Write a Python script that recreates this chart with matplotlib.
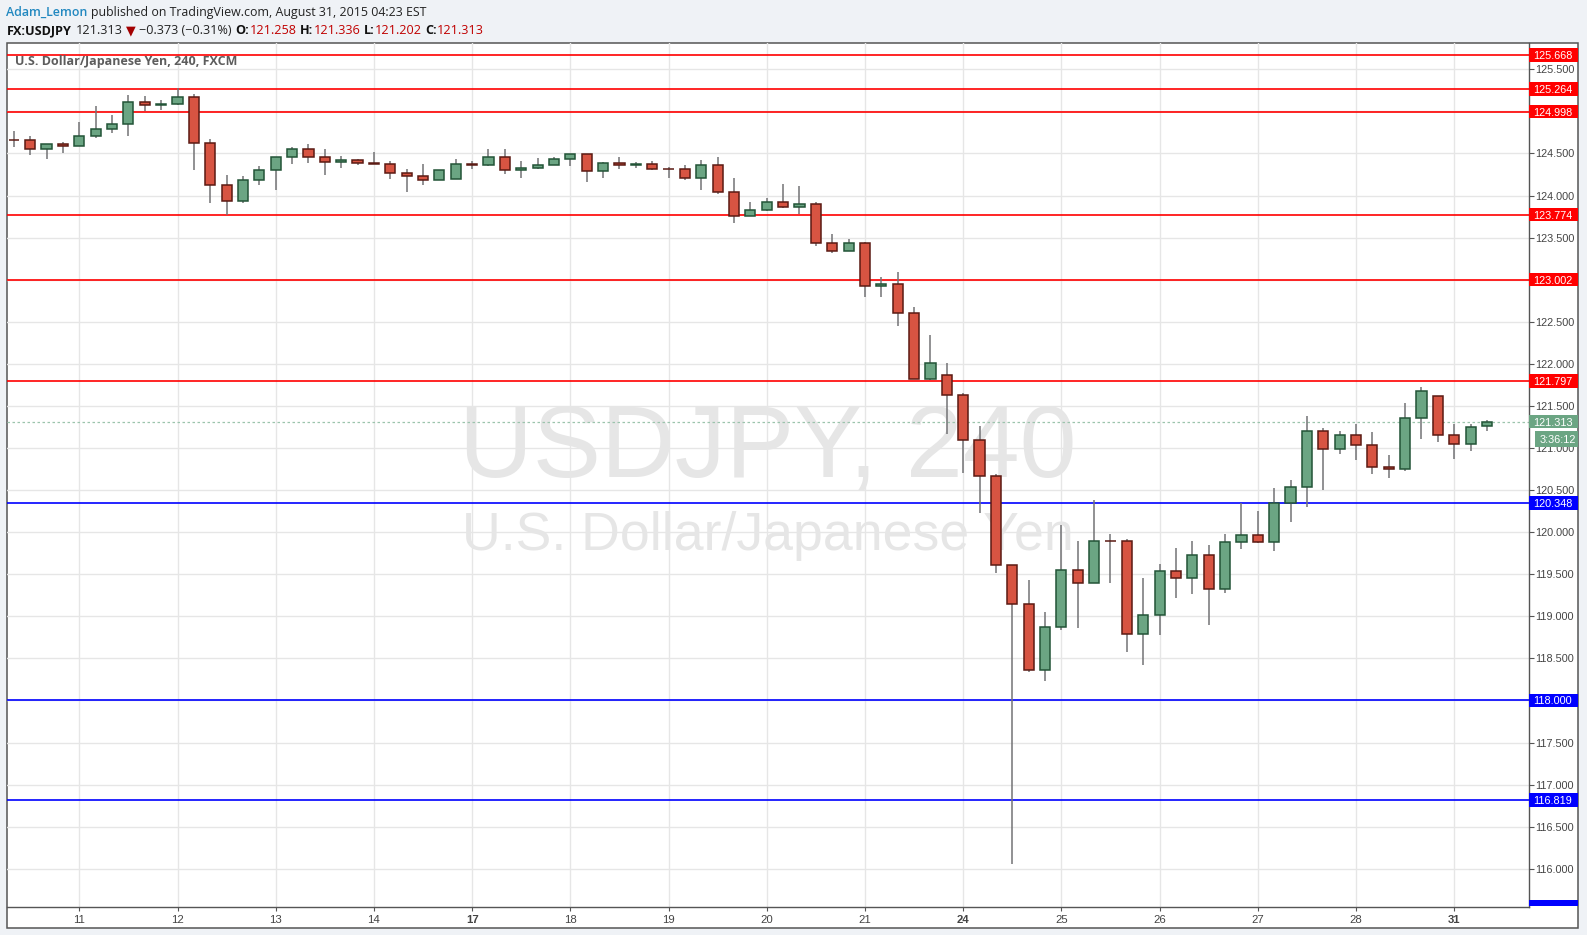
import matplotlib
matplotlib.use('Agg')
import matplotlib.pyplot as plt
from matplotlib.patches import Rectangle
from matplotlib.transforms import blended_transform_factory
import numpy as np

# ---------------- data ----------------
opens = [124.660, 124.655, 124.548, 124.607, 124.583, 124.702, 124.786, 124.845, 125.107, 125.071,
         125.083, 125.167, 124.619, 124.131, 123.940, 124.190, 124.298, 124.452, 124.548, 124.452,
         124.393, 124.417, 124.381, 124.369, 124.262, 124.238, 124.179, 124.202, 124.373, 124.357,
         124.452, 124.298, 124.333, 124.357, 124.440, 124.488, 124.286, 124.381, 124.357, 124.369,
         124.321, 124.321, 124.214, 124.357, 124.048, 123.762, 123.833, 123.929, 123.869, 123.905,
         123.431, 123.336, 123.431, 122.921, 122.945, 122.601, 121.818, 121.866, 121.627, 121.091,
         120.663, 119.615, 119.151, 118.365, 118.877, 119.556, 119.397, 119.901, 119.901, 118.794,
         119.020, 119.544, 119.460, 119.734, 119.329, 119.889, 119.972, 119.889, 120.341, 120.532,
         121.198, 120.984, 121.151, 121.032, 120.770, 120.746, 121.353, 121.615, 121.151, 121.044,
         121.258]
highs = [124.766, 124.706, 124.607, 124.635, 124.873, 125.063, 124.956, 125.194, 125.183, 125.135,
         125.274, 125.202, 124.667, 124.250, 124.238, 124.349, 124.452, 124.575, 124.607, 124.548,
         124.464, 124.429, 124.516, 124.409, 124.310, 124.373, 124.298, 124.433, 124.409, 124.552,
         124.552, 124.409, 124.444, 124.456, 124.488, 124.488, 124.397, 124.452, 124.393, 124.409,
         124.345, 124.357, 124.421, 124.452, 124.214, 123.921, 123.968, 124.134, 124.111, 123.921,
         123.542, 123.482, 123.447, 123.032, 123.091, 122.676, 122.344, 122.012, 121.651, 121.262,
         120.687, 119.615, 119.437, 119.048, 120.083, 119.893, 120.381, 119.984, 119.921, 119.452,
         119.627, 119.810, 119.893, 119.845, 119.984, 120.345, 120.250, 120.520, 120.615, 121.381,
         121.234, 121.198, 121.286, 121.187, 120.913, 121.536, 121.726, 121.615, 121.290, 121.282,
         121.336]
lows = [124.580, 124.484, 124.437, 124.508, 124.583, 124.687, 124.746, 124.710, 125.004, 125.020,
        125.075, 124.298, 123.913, 123.774, 123.913, 124.131, 124.060, 124.369, 124.389, 124.250,
        124.329, 124.357, 124.373, 124.198, 124.044, 124.127, 124.179, 124.202, 124.321, 124.349,
        124.258, 124.210, 124.321, 124.357, 124.353, 124.163, 124.214, 124.321, 124.333, 124.306,
        124.210, 124.187, 124.067, 124.024, 123.679, 123.762, 123.821, 123.854, 123.778, 123.403,
        123.320, 123.336, 122.798, 122.798, 122.455, 121.818, 121.806, 121.171, 120.706, 120.230,
        119.516, 116.052, 118.337, 118.230, 118.841, 118.861, 119.397, 119.397, 118.575, 118.421,
        118.778, 119.218, 119.266, 118.897, 119.278, 119.802, 119.877, 119.778, 120.123, 120.302,
        120.496, 120.925, 120.853, 120.687, 120.639, 120.722, 121.103, 121.067, 120.865, 120.960,
        121.202]
closes = [124.655, 124.548, 124.607, 124.583, 124.702, 124.786, 124.845, 125.107, 125.071, 125.087,
          125.167, 124.619, 124.131, 123.940, 124.190, 124.298, 124.452, 124.548, 124.452, 124.393,
          124.417, 124.381, 124.373, 124.262, 124.238, 124.179, 124.298, 124.369, 124.357, 124.452,
          124.298, 124.333, 124.357, 124.440, 124.488, 124.286, 124.381, 124.357, 124.373, 124.321,
          124.317, 124.214, 124.357, 124.048, 123.762, 123.833, 123.929, 123.869, 123.905, 123.431,
          123.336, 123.431, 122.921, 122.945, 122.601, 121.818, 122.008, 121.627, 121.091, 120.663,
          119.615, 119.151, 118.365, 118.877, 119.556, 119.397, 119.901, 119.897, 118.794, 119.020,
          119.544, 119.460, 119.734, 119.329, 119.889, 119.972, 119.889, 120.341, 120.532, 121.198,
          120.984, 121.151, 121.032, 120.770, 120.746, 121.353, 121.675, 121.151, 121.044, 121.246,
          121.313]

day_labels = ['11', '12', '13', '14', '17', '18', '19', '20', '21', '24', '25', '26', '27', '28', '31']
day_index = [4, 10, 16, 22, 28, 34, 40, 46, 52, 58, 64, 70, 76, 82, 88]
monday_labels = ['17', '24', '31']
price_ticks = [116.0, 116.5, 117.0, 117.5, 118.0, 118.5, 119.0, 119.5, 120.0, 120.5,
               121.0, 121.5, 122.0, 122.5, 123.0, 123.5, 124.0, 124.5, 125.0, 125.5]
red_levels = [125.668, 125.264, 124.998, 123.774, 123.002, 121.797]
blue_levels = [120.348, 118.000, 116.819]
last_price = 121.313
countdown = '3:36:12'

# ---------------- styles ----------------
UP, DOWN = '#6ba583', '#d75442'
UP_EDGE, DOWN_EDGE = '#225437', '#5b1a13'
WICK = '#737375'
W, H = 1587, 935
PX_PER_UNIT = 84.16

fig = plt.figure(figsize=(W / 100, H / 100), dpi=100)
fig.patch.set_facecolor('#eff2f6')


def fx(px):
    return px / W


def fy(py):
    return 1 - py / H


panel = Rectangle((fx(6.7), fy(928)), fx(1578) - fx(6.7), fy(42.7) - fy(928),
                  transform=fig.transFigure, facecolor='white', edgecolor='#555555',
                  lw=1.1, zorder=-5)
fig.patches.append(panel)

L, R, T, B = 6.7, 1528.7, 42.7, 907.3
ax = fig.add_axes([fx(L), fy(B), fx(R) - fx(L), fy(T) - fy(B)])
ax.set_zorder(1)
ax.set_facecolor('none')
ax.set_xlim(-0.435, 92.55)
ax.set_ylim(125.5 - (B - 69.3) / PX_PER_UNIT, 125.5 + (69.3 - T) / PX_PER_UNIT)

for s in ['left', 'top']:
    ax.spines[s].set_visible(False)
for s in ['right', 'bottom']:
    ax.spines[s].set_color('#555555')
    ax.spines[s].set_linewidth(1.0)

ax.set_xticks(day_index)
ax.set_xticklabels(day_labels)
for lab in ax.get_xticklabels():
    lab.set_fontfamily('Liberation Sans')
    if lab.get_text() in monday_labels:
        lab.set_fontweight('bold')
ax.tick_params(axis='x', length=3, width=0.8, color='#555555', labelsize=8.2,
               labelcolor='#444444', pad=2.5)

ax.yaxis.tick_right()
ax.set_yticks(price_ticks)
ax.set_yticklabels(['%.3f' % v for v in price_ticks], fontfamily='Liberation Sans')
ax.tick_params(axis='y', length=3.5, width=0.8, color='#555555', labelsize=7.8,
               labelcolor='#444444', pad=1.2)

ax.grid(True, color='#e6e6e6', lw=1.0, zorder=1)
ax.set_axisbelow(True)

# watermark (centred on the plotting area)
cx = fx((L + R) / 2)
ax.text(cx, fy(477), 'USDJPY, 240', transform=fig.transFigure, ha='center', va='baseline',
        fontsize=73.6, color='#e6e6e6', family='Liberation Sans', zorder=0.5)
ax.text(cx, fy(550), 'U.S. Dollar/Japanese Yen', transform=fig.transFigure, ha='center',
        va='baseline', fontsize=38.6, color='#e6e6e6', family='Liberation Sans', zorder=0.5)

# level lines
for lv in red_levels:
    ax.axhline(lv, color='#ff0000', lw=1.2, zorder=2)
for lv in blue_levels:
    ax.axhline(lv, color='#0000ff', lw=1.2, zorder=2)
ax.axhline(last_price, color='#9cc4ad', lw=0.9, ls=(0, (2, 2)), zorder=2)

# candles
x = np.arange(len(opens))
o = np.array(opens); c = np.array(closes); h = np.array(highs); l = np.array(lows)
up = c >= o
ax.vlines(x, l, h, color=WICK, lw=1.1, zorder=2.8)
bottoms = np.minimum(o, c)
heights = np.maximum(np.abs(c - o), 0.004)
ax.bar(x[up], heights[up], bottom=bottoms[up], width=0.62, color=UP, edgecolor=UP_EDGE,
       lw=1.1, zorder=3)
ax.bar(x[~up], heights[~up], bottom=bottoms[~up], width=0.62, color=DOWN, edgecolor=DOWN_EDGE,
       lw=1.1, zorder=3)

# price labels on right scale
bt = blended_transform_factory(ax.transAxes, ax.transData)
axw = R - L


def price_label(p, text, fc, x0=R, x1=1578, hpx=13.6):
    hh = hpx / PX_PER_UNIT
    rect = Rectangle(((x0 - L) / axw, p - hh / 2), (x1 - x0) / axw, hh, transform=bt,
                     facecolor=fc, edgecolor='none', clip_on=False, zorder=6)
    ax.add_patch(rect)
    if text:
        ax.text((x0 + 4.5 - L) / axw, p, text, transform=bt, ha='left', va='center_baseline',
                fontsize=7.8, color='white', family='Liberation Sans', clip_on=False, zorder=7)


for lv in red_levels:
    price_label(lv, '%.3f' % lv, '#ff0000')
for lv in blue_levels:
    price_label(lv, '%.3f' % lv, '#0000ff')
price_label(last_price, '%.3f' % last_price, UP)
price_label(last_price - (437 - 420) / PX_PER_UNIT, countdown, UP, x0=1535, hpx=15.7)
# clipped label at the bottom of the scale
bot = ax.get_ylim()[0]
ax.add_patch(Rectangle(((R - L) / axw, bot + 1.5 / PX_PER_UNIT), (1578 - R) / axw,
                       6 / PX_PER_UNIT, transform=bt, facecolor='#0000ff', edgecolor='none',
                       clip_on=False, zorder=6))

# ---------------- header texts ----------------
fig.canvas.draw()
renderer = fig.canvas.get_renderer()
HF = ['Open Sans', 'DejaVu Sans']


def chain(parts, x0, ybase, size):
    xx = x0
    for s, kw in parts:
        if s == ' ':
            xx += size * 0.4
            continue
        t = fig.text(fx(xx), fy(ybase), s, ha='left', va='baseline', fontsize=size,
                     family=HF, **kw)
        xx += t.get_window_extent(renderer).width


chain([('Adam_Lemon', dict(color='#2288c0', weight='semibold')), (' ', {}),
       ('published on TradingView.com, August 31, 2015 04:23 EST', dict(color='#222222'))],
      6, 16, 8.9)
chain([('FX:USDJPY', dict(color='#111111', weight='bold')), (' ', {}),
       ('121.313', dict(color='#222222')), (' ', {}),
       ('\u25bc', dict(color='#a30000')), (' ', {}),
       ('\u22120.373 (\u22120.31%)', dict(color='#222222')), (' ', {}),
       ('O:', dict(color='#111111', weight='bold')), ('121.258', dict(color='#c00000')), (' ', {}),
       ('H:', dict(color='#111111', weight='bold')), ('121.336', dict(color='#c00000')), (' ', {}),
       ('L:', dict(color='#111111', weight='bold')), ('121.202', dict(color='#c00000')), (' ', {}),
       ('C:', dict(color='#111111', weight='bold')), ('121.313', dict(color='#c00000'))],
      7, 34.5, 9.1)

fig.text(fx(15), fy(65.5), 'U.S. Dollar/Japanese Yen, 240, FXCM', ha='left', va='baseline',
         fontsize=9.0, family=HF, weight='bold', color='#5d5d5d')

fig.savefig('out.png', dpi=100, facecolor=fig.get_facecolor())
